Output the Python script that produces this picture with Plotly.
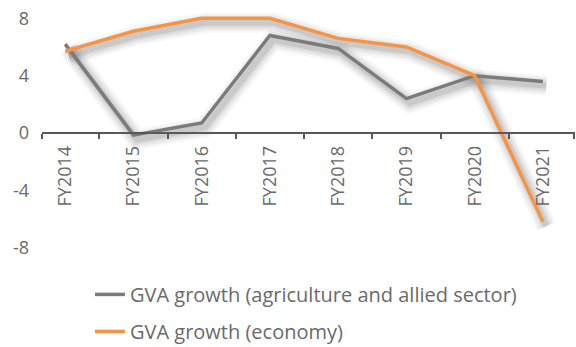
import plotly.graph_objects as go

categories = ["FY2014", "FY2015", "FY2016", "FY2017", "FY2018", "FY2019", "FY2020", "FY2021"]
agri = [6.2, -0.15, 0.7, 6.8, 5.9, 2.4, 4.0, 3.6]
economy = [5.7, 7.1, 8.0, 8.0, 6.6, 6.0, 4.0, -6.2]
y_ticks = [8, 4, 0, -4, -8]

GREY = "#7b7b7b"
ORANGE = "#f79443"
TXT = "#6a6a6a"
FONT = "Open Sans"

xs = list(range(len(categories)))
x_range = [-0.34, 7.47]
y_range = [-9, 9]
bounds = [x_range[0]] + [i + 0.5 for i in xs[:-1]] + [x_range[1] - 0.01]

fig = go.Figure()

# soft shadows
dx, dy = 0.05, -0.3
for w, a in [(20, 0.035), (15, 0.05), (10, 0.06), (6, 0.08)]:
    for ser in (agri, economy):
        fig.add_trace(go.Scatter(
            x=[v + dx for v in xs], y=[v + dy for v in ser], mode="lines",
            line=dict(color=f"rgba(0,0,0,{a})", width=w),
            showlegend=False, hoverinfo="skip"))

fig.add_trace(go.Scatter(x=xs, y=agri, mode="lines", name="GVA growth (agriculture and allied sector)",
                         line=dict(color=GREY, width=3.5), legendgroup="a"))
fig.add_trace(go.Scatter(x=xs, y=economy, mode="lines", name="GVA growth (economy)",
                         line=dict(color=ORANGE, width=3.5), legendgroup="b"))

fig.update_layout(
    width=576, height=347,
    margin=dict(l=42, r=1, t=4, b=85, autoexpand=False),
    paper_bgcolor="white", plot_bgcolor="white",
    font=dict(family=FONT, color=TXT, size=18),
    xaxis=dict(
        range=x_range, tickmode="array", tickvals=xs, ticktext=categories,
        tickangle=-90, ticks="", showgrid=False, zeroline=False,
        showline=True, linecolor="#595959", linewidth=1.5,
        anchor="free", position=0.5, tickfont=dict(size=18, color=TXT),
        ticklabelstandoff=5,
        minor=dict(tickvals=bounds, ticks="outside", ticklen=5, tickwidth=1.5, tickcolor="#595959", showgrid=False),
    ),
    yaxis=dict(
        range=y_range, tickvals=y_ticks, ticktext=[str(v) for v in y_ticks],
        showgrid=False, zeroline=False, showline=False, ticks="",
        tickfont=dict(size=18, color=TXT), ticklabelstandoff=12,
    ),
    legend=dict(
        x=0.09, y=-0.05, xanchor="left", yanchor="top", orientation="v",
        font=dict(size=20, color=TXT), tracegroupgap=8, bgcolor="rgba(0,0,0,0)",
    ),
)

fig.write_html("out.html")
